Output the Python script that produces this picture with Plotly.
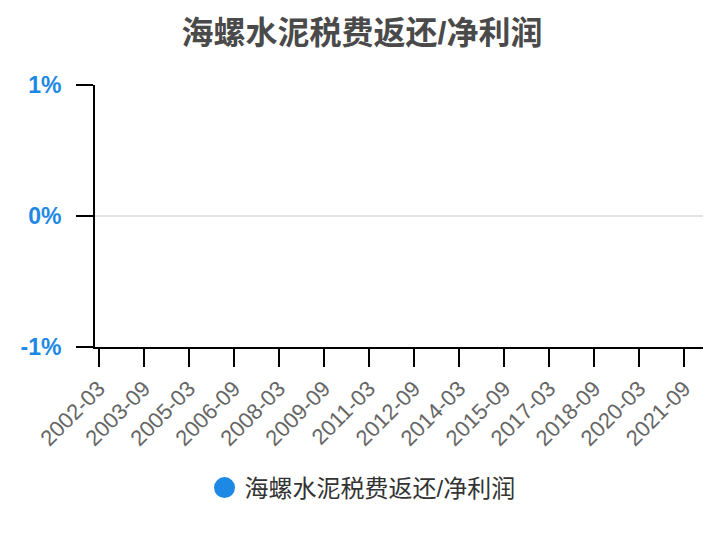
import plotly.graph_objects as go

# quarterly report dates, 2002-03 .. 2022-03
quarters = [f"{y}-{m}" for y in range(2002, 2023) for m in ("03", "06", "09", "12")]
quarters = quarters[:quarters.index("2022-03") + 1]

# no values reported for this ratio
ratio = [None] * len(quarters)

tick_labels = ["2002-03", "2003-09", "2005-03", "2006-09", "2008-03", "2009-09",
               "2011-03", "2012-09", "2014-03", "2015-09", "2017-03", "2018-09",
               "2020-03", "2021-09"]
y_ticks = [-0.01, 0, 0.01]
y_text = ["<b>-1%</b>", "<b>0%</b>", "<b>1%</b>"]

name = "海螺水泥税费返还/净利润"
blue = "rgb(30,136,229)"
cjk = "Liberation Sans, Noto Sans CJK SC, sans-serif"

fig = go.Figure()
fig.add_trace(go.Scatter(x=quarters, y=ratio, name=name, mode="markers",
                         marker=dict(color=blue, size=16, line=dict(color=blue, width=5)),
                         showlegend=True))

# page body has an 8px margin, so the figure is a bit smaller than the window
fig.update_layout(
    width=716, height=532,
    margin=dict(l=82, r=21, t=77, b=193),
    plot_bgcolor="white", paper_bgcolor="white",
    font=dict(family=cjk),
    title=dict(text="<b>" + name + "</b>", x=(362 - 8) / 716, xanchor="center",
               y=1 - 25 / 532, yanchor="middle",
               font=dict(size=32, color="#4a4a4a", family=cjk)),
    showlegend=True,
    legend=dict(orientation="h", x=0.44, xanchor="center", y=-0.538, yanchor="middle",
                font=dict(size=24, color="#333333"), itemwidth=30),
)
fig.update_xaxes(
    type="category", categoryorder="array", categoryarray=quarters,
    range=[-0.5, len(quarters) - 0.5],
    tickmode="array", tickvals=tick_labels, ticktext=tick_labels,
    tickangle=-45, tickfont=dict(size=22, color="#666666"),
    ticks="outside", ticklen=18, tickwidth=2, tickcolor="black",
    showline=True, linecolor="black", linewidth=2, showgrid=False,
)
fig.update_yaxes(
    range=[-0.01, 0.01], tickmode="array", tickvals=y_ticks, ticktext=y_text,
    tickfont=dict(size=23, color=blue, family="Liberation Sans, Arial"),
    ticks="outside", ticklen=17, tickwidth=2, tickcolor="black", ticklabelstandoff=10,
    showline=True, linecolor="black", linewidth=2,
    showgrid=True, gridcolor="#e3e3e3", gridwidth=2, zeroline=False,
)

fig.write_html("out.html")
